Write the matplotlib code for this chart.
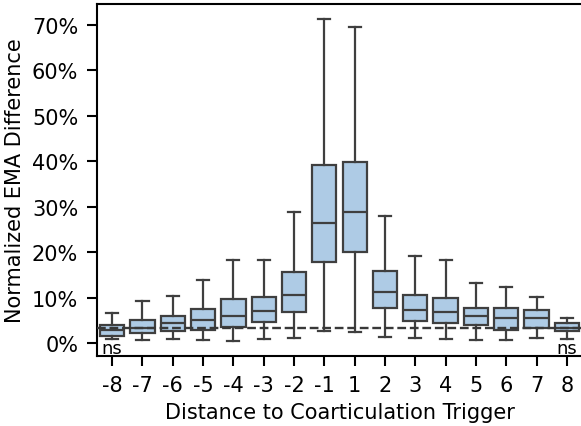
import matplotlib
matplotlib.use("Agg")
import matplotlib.pyplot as plt
from matplotlib.ticker import FuncFormatter

# Data (percent)
positions = [-8, -7, -6, -5, -4, -3, -2, -1, 1, 2, 3, 4, 5, 6, 7, 8]
whislo = [0.9, 0.7, 0.8, 0.7, 0.4, 0.9, 1.2, 2.6, 2.5, 1.3, 1.0, 0.9, 0.6, 0.7, 1.2, 0.9]
q1 = [1.5, 2.1, 2.6, 2.9, 3.6, 4.6, 6.8, 17.8, 20.0, 7.6, 4.9, 4.5, 4.0, 2.8, 3.4, 2.6]
med = [2.8, 3.2, 4.3, 5.0, 6.0, 7.0, 10.5, 26.4, 28.9, 11.2, 7.3, 6.9, 5.9, 5.6, 5.4, 3.4]
q3 = [3.9, 5.1, 5.9, 7.4, 9.6, 10.1, 15.6, 39.2, 39.9, 15.8, 10.6, 10.0, 7.7, 7.7, 7.3, 4.3]
whishi = [6.5, 9.2, 10.4, 13.9, 18.3, 18.3, 28.8, 71.2, 69.5, 28.0, 19.1, 18.3, 13.2, 12.4, 10.1, 5.5]
baseline = 3.2
ns_labels = {-8: "ns", 8: "ns"}

fill = "#aecbe5"
edge = "#3f3f3f"

fig = plt.figure(figsize=(5.81, 4.27), dpi=100)
ax = fig.add_axes([97 / 581, 1 - 357 / 427, (582 - 97) / 581, (357 - 5) / 427])

stats = []
for i, p in enumerate(positions):
    stats.append(dict(med=med[i], q1=q1[i], q3=q3[i], whislo=whislo[i], whishi=whishi[i], fliers=[], label=str(p)))

xs = list(range(len(positions)))
ax.bxp(stats, positions=xs, widths=0.8, patch_artist=True, showfliers=False,
       boxprops=dict(facecolor=fill, edgecolor=edge, linewidth=1.6),
       medianprops=dict(color=edge, linewidth=1.6),
       whiskerprops=dict(color=edge, linewidth=1.6),
       capprops=dict(color=edge, linewidth=1.6))

ax.axhline(baseline, color="#383838", linestyle="--", linewidth=1.7, zorder=5)

for i, p in enumerate(positions):
    if p in ns_labels:
        ax.text(xs[i], -1.2, ns_labels[p], ha="center", va="center", fontsize=13, color="black")

ax.set_xlim(-0.5, len(positions) - 0.5)
ax.set_ylim(-2.86, 74.6)
ax.set_xticks(xs)
ax.set_xticklabels([str(p) for p in positions])
ax.set_yticks([0, 10, 20, 30, 40, 50, 60, 70])
ax.yaxis.set_major_formatter(FuncFormatter(lambda v, _: f"{v:.0f}%"))

ax.tick_params(axis="both", labelsize=15, length=7.5, width=1.5, colors="black", pad=6)
for s in ["left", "bottom", "top"]:
    ax.spines[s].set_linewidth(1.5)
ax.spines["right"].set_visible(False)

ax.set_xlabel("Distance to Coarticulation Trigger", fontsize=15, labelpad=5)
ax.set_ylabel("Normalized EMA Difference", fontsize=15, labelpad=5)

fig.savefig("out.png", dpi=100)
